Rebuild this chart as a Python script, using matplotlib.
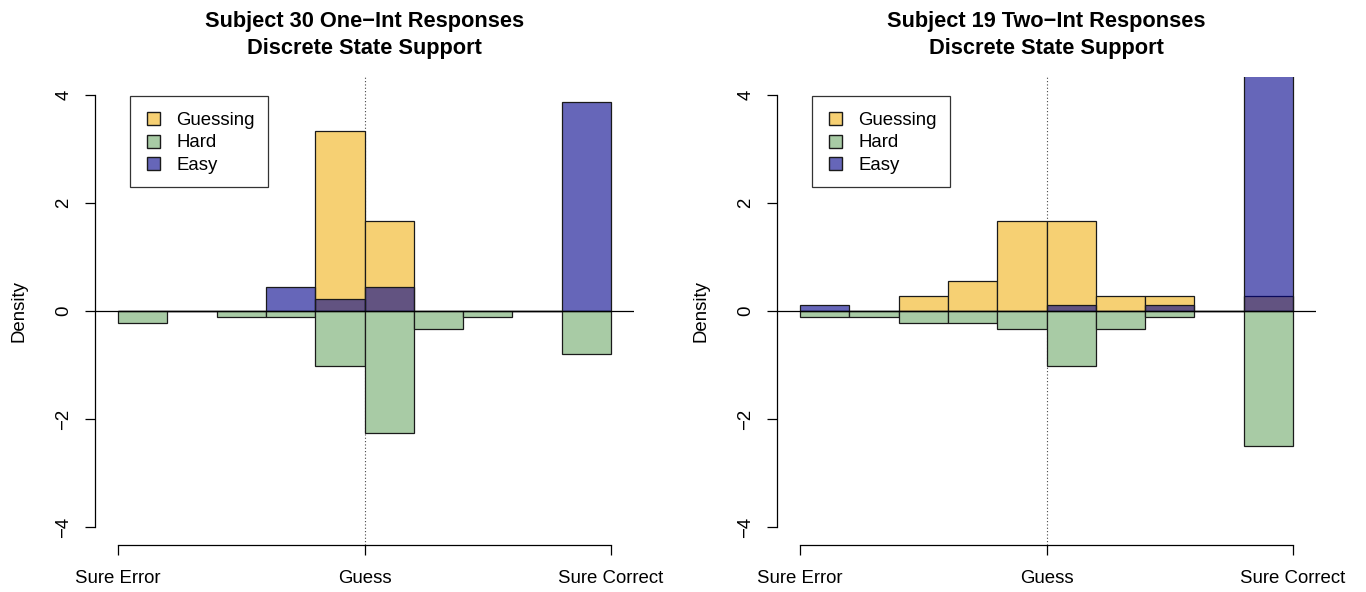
import matplotlib
matplotlib.use("Agg")
import matplotlib.pyplot as plt
from matplotlib.patches import Patch, Rectangle
from matplotlib.legend_handler import HandlerPatch
import numpy as np

plt.rcParams['font.family'] = ['Liberation Sans', 'DejaVu Sans']

# bin left edges (10 bins across 0..1)
bin_edges = [0.0, 0.1, 0.2, 0.3, 0.4, 0.5, 0.6, 0.7, 0.8, 0.9]
bin_width = 0.1
xtick_pos = [0.0, 0.5, 1.0]
xtick_labels = ["Sure Error", "Guess", "Sure Correct"]
yticks = [-4, -2, 0, 2, 4]

titles = ["Subject 30 One\u2212Int Responses\nDiscrete State Support",
          "Subject 19 Two\u2212Int Responses\nDiscrete State Support"]

# Left panel densities
left_guessing = [0, 0, 0, 0, 3.33, 1.67, 0, 0, 0, 0]
left_hard = [0.22, 0, 0.11, 0.11, 1.02, 2.26, 0.33, 0.11, 0, 0.80]
left_easy = [0, 0, 0, 0.45, 0.22, 0.45, 0, 0, 0, 3.87]

# Right panel densities
right_guessing = [0, 0, 0.27, 0.56, 1.67, 1.67, 0.27, 0.27, 0, 0.27]
right_hard = [0.11, 0.11, 0.22, 0.22, 0.33, 1.02, 0.33, 0.11, 0, 2.50]
right_easy = [0.11, 0, 0, 0, 0, 0.11, 0, 0.11, 0, 5.60]

legend_labels = ["Guessing", "Hard", "Easy"]
col_guess = (246/255, 208/255, 115/255)
col_hard = (168/255, 203/255, 165/255)
col_easy = (0, 0, 139/255, 0.6)
edge_col = "#1a1a1a"


def square_patch(legend, orig_handle, xdescent, ydescent, width, height, fontsize):
    s = 9.4  # points
    x = -xdescent + width - s
    y = -ydescent + (height - s) / 2.0
    return Rectangle((x, y), s, s)


fig = plt.figure(figsize=(13.66, 5.92), dpi=100)
W, H = 1366, 592
panels = [
    (95, titles[0], left_guessing, left_hard, left_easy),
    (777, titles[1], right_guessing, right_hard, right_easy),
]

fs = 13.4
for x0, title, g, h, e in panels:
    ax = fig.add_axes([x0 / W, (H - 545) / H, 539 / W, 468 / H])
    lw = 0.9
    ax.bar(bin_edges, g, width=bin_width, align='edge', color=col_guess,
           edgecolor=edge_col, linewidth=lw, zorder=2)
    ax.bar(bin_edges, [-v for v in h], width=bin_width, align='edge', color=col_hard,
           edgecolor=edge_col, linewidth=lw, zorder=3)
    ax.bar(bin_edges, e, width=bin_width, align='edge', color=col_easy,
           edgecolor=edge_col, linewidth=lw, zorder=4)
    ax.axhline(0, color='black', linewidth=0.9, zorder=5)
    ax.axvline(0.5, color='#444444', linewidth=0.8, linestyle=(0, (1, 2)), zorder=1)

    ax.set_xlim(-0.0467, 1.0467)
    ax.set_ylim(-4.33, 4.33)

    for s in ['top', 'right']:
        ax.spines[s].set_visible(False)
    ax.spines['left'].set_bounds(-4, 4)
    ax.spines['bottom'].set_bounds(0, 1)
    ax.spines['left'].set_linewidth(0.9)
    ax.spines['bottom'].set_linewidth(0.9)

    ax.set_yticks(yticks)
    ax.set_yticklabels([str(t).replace('-', '\u2212') for t in yticks], rotation=90,
                       va='center', fontsize=fs)
    ax.set_xticks(xtick_pos)
    ax.set_xticklabels(xtick_labels, fontsize=fs)
    ax.tick_params(axis='both', length=7.2, width=0.9, direction='out')
    ax.tick_params(axis='x', pad=11)
    ax.tick_params(axis='y', pad=9)
    ax.set_ylabel("Density", fontsize=fs, labelpad=20)
    ax.set_title(title, fontsize=15.7, fontweight='bold', pad=16.5, linespacing=1.35)

    handles = [Patch(facecolor=col_guess, edgecolor=edge_col),
               Patch(facecolor=col_hard, edgecolor=edge_col),
               Patch(facecolor=col_easy, edgecolor=edge_col)]
    leg = ax.legend(handles, legend_labels, loc='upper left',
                    bbox_to_anchor=(0.065, 0.959), borderaxespad=0,
                    fontsize=fs, frameon=True, fancybox=False,
                    handlelength=0.91, handleheight=1.15, handletextpad=0.85,
                    labelspacing=0.15, borderpad=0.72,
                    handler_map={Patch: HandlerPatch(patch_func=square_patch)})
    leg.get_frame().set_edgecolor('black')
    leg.get_frame().set_linewidth(0.9)
    leg.set_zorder(10)

fig.savefig("out.png", dpi=100)
